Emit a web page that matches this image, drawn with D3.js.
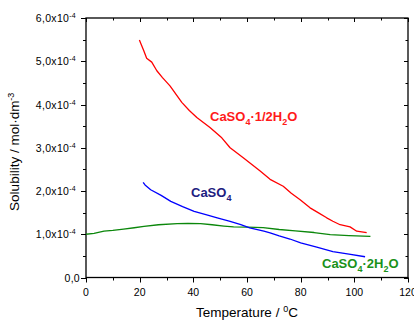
<!DOCTYPE html>
<html>
<head>
<meta charset="utf-8">
<script src="https://cdn.jsdelivr.net/npm/d3@7"></script>
<style>
  body { margin: 0; background: #fff; }
  text { font-family: Arial, "Liberation Sans", sans-serif; }
</style>
</head>
<body>
<script>
// values, solubility in units of 1e-4 mol/dm3
const hemiT = [19.9, 20.5, 21.5, 22.6, 24.5, 26.4, 28.5, 31.3, 35.7, 38.5, 41.3, 46.2, 50.6, 53.7, 58.6, 64.9, 68.6, 73.5, 76.5, 79.8, 83.5, 86.5, 89.7, 92, 94.7, 98.4, 100.9, 104.6];
const hemiS = [5.49, 5.40, 5.25, 5.07, 4.98, 4.78, 4.62, 4.43, 4.05, 3.86, 3.70, 3.47, 3.23, 3.00, 2.77, 2.46, 2.27, 2.11, 1.95, 1.80, 1.61, 1.50, 1.38, 1.30, 1.22, 1.17, 1.07, 1.04];

const anhT = [21.3, 22, 24.1, 28, 31.6, 36, 40.3, 45, 48.9, 53.7, 57.7, 61, 66.3, 68.6, 72, 76, 80, 86, 92, 98, 104];
const anhS = [2.20, 2.14, 2.03, 1.90, 1.76, 1.64, 1.53, 1.45, 1.38, 1.30, 1.22, 1.15, 1.07, 1.03, 0.96, 0.89, 0.80, 0.70, 0.60, 0.54, 0.48];

const dihT = [0, 3, 6.7, 10, 14, 18, 21.6, 27, 34, 38, 42.7, 47, 51.4, 55, 60, 66, 72, 78, 85, 91, 98, 106];
const dihS = [1.00, 1.02, 1.07, 1.09, 1.12, 1.15, 1.18, 1.22, 1.245, 1.25, 1.245, 1.22, 1.19, 1.17, 1.165, 1.155, 1.11, 1.08, 1.04, 0.99, 0.97, 0.95];

const xTicks = [0, 20, 40, 60, 80, 100, 120];
const yTicks = [0, 1, 2, 3, 4, 5, 6];
const yTickLabels = ["0,0", "1,0x10", "2,0x10", "3,0x10", "4,0x10", "5,0x10", "6,0x10"];

const width = 414, height = 320;
const svg = d3.select("body").append("svg")
  .attr("width", width).attr("height", height);

const x = d3.scaleLinear().domain([0, 120]).range([86, 408]);
const y = d3.scaleLinear().domain([0, 6]).range([277.5, 18]);

const xMinor = d3.range(0, 121, 10);
const yMinor = d3.range(0, 6.01, 0.5);

// ticks, outer on left/bottom, inner on right/top
const tk = svg.append("g").attr("stroke", "#000").attr("stroke-width", 1);
xMinor.forEach(v => {
  const major = v % 20 === 0;
  const px = Math.round(x(v)) + 0.5;
  tk.append("line").attr("x1", px).attr("x2", px).attr("y1", y(0)).attr("y2", y(0) + (major ? 5 : 3));
  tk.append("line").attr("x1", px).attr("x2", px).attr("y1", y(6)).attr("y2", y(6) + (major ? 4 : 2.5));
});
yMinor.forEach(v => {
  const major = Math.abs(v - Math.round(v)) < 1e-6;
  const py = Math.round(y(v)) + 0.5;
  tk.append("line").attr("x1", x(0)).attr("x2", x(0) - (major ? 5 : 3)).attr("y1", py).attr("y2", py);
  tk.append("line").attr("x1", x(120)).attr("x2", x(120) - (major ? 4 : 2.5)).attr("y1", py).attr("y2", py);
});

// frame
svg.append("rect")
  .attr("x", x(0)).attr("y", y(6))
  .attr("width", x(120) - x(0)).attr("height", y(0) - y(6))
  .attr("fill", "none").attr("stroke", "#000").attr("stroke-width", 1.3);

// tick labels
svg.append("g").selectAll("text").data(xTicks).join("text")
  .attr("x", d => x(d)).attr("y", 296)
  .attr("text-anchor", "middle").attr("font-size", 10.5)
  .text(d => d);

const yl = svg.append("g").selectAll("text").data(yTicks).join("text")
  .attr("x", d => d === 0 ? 80 : 76).attr("y", d => y(d) + 4)
  .attr("text-anchor", "end").attr("font-size", 10.5)
  .attr("letter-spacing", 0.3);
yl.append("tspan").text((d, i) => yTickLabels[i]);
yl.filter(d => d !== 0).append("tspan")
  .attr("dy", -4).attr("font-size", 7).text("-4");

// axis titles
const xt = svg.append("text")
  .attr("x", (x(0) + x(120)) / 2).attr("y", 317)
  .attr("text-anchor", "middle").attr("font-size", 13.5);
xt.append("tspan").text("Temperature / ");
xt.append("tspan").attr("dy", -5).attr("font-size", 9).text("0");
xt.append("tspan").attr("dy", 5).text("C");

const yt = svg.append("text")
  .attr("transform", `translate(19,${(y(0) + y(6)) / 2 + 4}) rotate(-90)`)
  .attr("text-anchor", "middle").attr("font-size", 13.5);
yt.append("tspan").text("Solubility / mol·dm");
yt.append("tspan").attr("dy", -5).attr("font-size", 9).text("-3");

// curves
const line = d3.line().x(d => x(d[0])).y(d => y(d[1]));
const series = [
  { T: dihT, S: dihS, color: "#0b870b" },
  { T: anhT, S: anhS, color: "#0000ff" },
  { T: hemiT, S: hemiS, color: "#ff0000" }
];
series.forEach(s => {
  svg.append("path")
    .datum(s.T.map((t, i) => [t, s.S[i]]))
    .attr("d", line)
    .attr("fill", "none").attr("stroke", s.color)
    .attr("stroke-width", 1.3).attr("stroke-linejoin", "round");
});

// curve labels, pieces: [text, isSubscript]
function label(px, py, parts, color) {
  const t = svg.append("text").attr("x", px).attr("y", py)
    .attr("font-size", 13).attr("font-weight", "bold").attr("fill", color);
  let sub = false;
  parts.forEach(p => {
    const ts = t.append("tspan").text(p[0]);
    if (p[1] && !sub) { ts.attr("dy", 4).attr("font-size", 9); sub = true; }
    else if (!p[1] && sub) { ts.attr("dy", -4); sub = false; }
  });
}
label(210, 121, [["CaSO", 0], ["4", 1], ["·1/2H", 0], ["2", 1], ["O", 0]], "#ff1a1a");
label(191, 197, [["CaSO", 0], ["4", 1]], "#1d2080");
label(322, 268, [["CaSO", 0], ["4", 1], ["·2H", 0], ["2", 1], ["O", 0]], "#1a921a");
</script>
</body>
</html>
